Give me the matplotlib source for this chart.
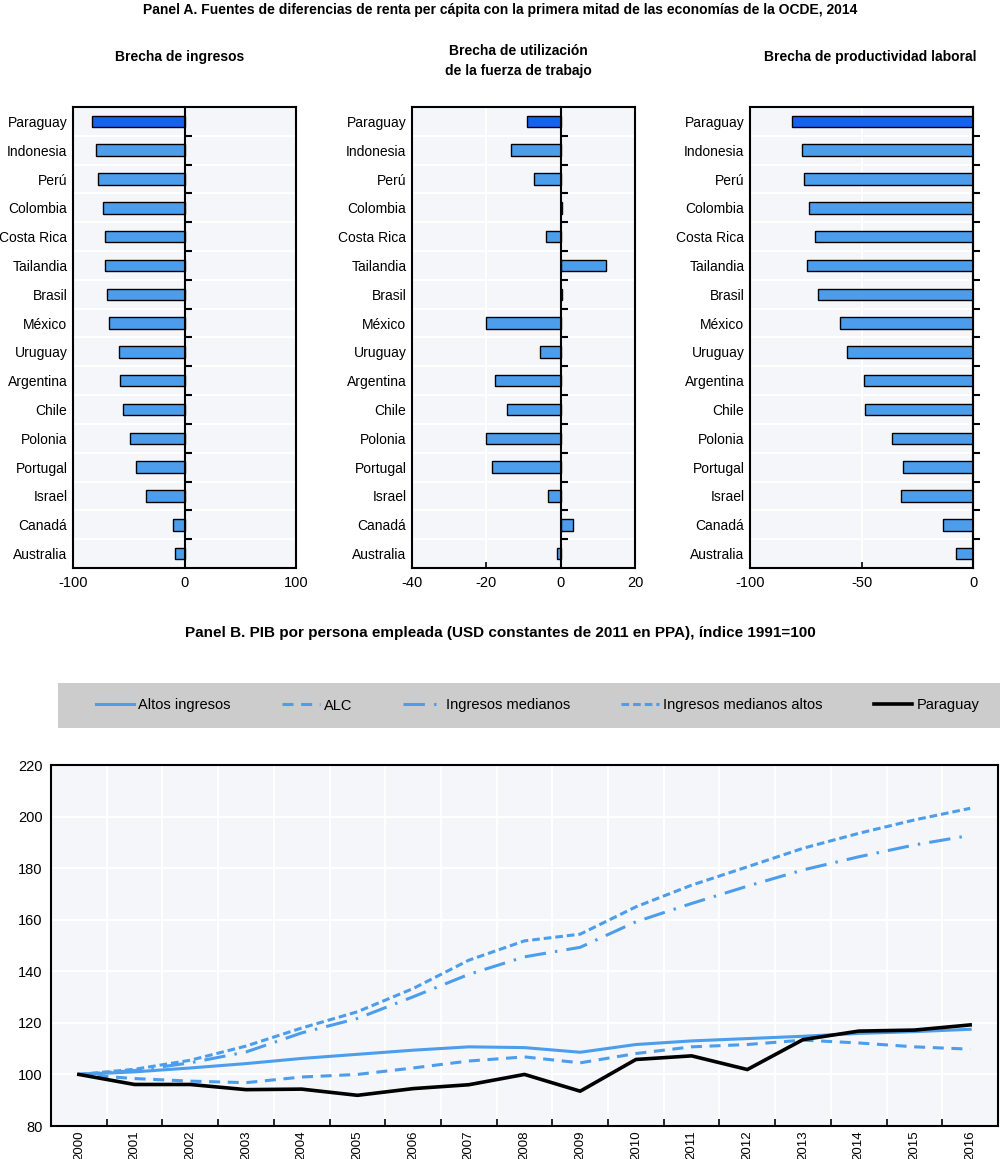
import numpy as np
import matplotlib
matplotlib.use('Agg')
import matplotlib.pyplot as plt
from matplotlib.patches import Rectangle

plt.rcParams['font.family'] = ['Liberation Sans', 'DejaVu Sans']

# Panel A data (gaps vs upper half of OECD, 2014)
countries = ['Paraguay', 'Indonesia', 'Perú', 'Colombia', 'Costa Rica', 'Tailandia', 'Brasil',
             'México', 'Uruguay', 'Argentina', 'Chile', 'Polonia', 'Portugal', 'Israel',
             'Canadá', 'Australia']
brecha_ingresos = [-83.0, -79.4, -77.3, -73.0, -71.6, -71.0, -69.2, -67.4, -58.7, -57.8,
                   -55.0, -48.9, -43.8, -34.5, -10.0, -8.2]
brecha_trabajo = [-9.0, -13.4, -7.2, 0.3, -4.0, 12.1, 0.3, -20.1, -5.5, -17.8,
                  -14.4, -20.1, -18.6, -3.5, 3.3, -1.1]
brecha_productividad = [-81.1, -76.7, -75.8, -73.5, -70.8, -74.5, -69.5, -59.7, -56.6, -48.9,
                        -48.4, -36.5, -31.3, -32.2, -13.3, -7.6]

# Panel B data (GDP per person employed, index)
years = list(range(2000, 2017))
altos_ingresos = [100, 101.0, 102.5, 104.2, 106.2, 107.8, 109.4, 110.7, 110.4, 108.6,
                  111.6, 113.0, 113.9, 114.8, 115.9, 116.6, 117.5]
alc = [100, 98.4, 97.4, 96.8, 99.0, 100.0, 102.5, 105.2, 106.8, 104.5,
       108.1, 110.7, 111.6, 113.3, 112.2, 110.7, 109.8]
ing_medianos = [100, 101.5, 104.5, 108.7, 116.1, 121.7, 130.1, 138.8, 145.6, 149.3,
                159.2, 166.3, 173.0, 179.3, 184.4, 189.0, 192.7]
ing_medianos_altos = [100, 102.0, 105.5, 111.0, 118.0, 124.3, 133.3, 144.3, 151.8, 154.4,
                      165.0, 173.4, 180.5, 187.7, 193.5, 198.7, 203.2]
paraguay = [100, 96.1, 96.1, 94.1, 94.3, 91.9, 94.5, 96.0, 100.0, 93.5,
            105.8, 107.2, 101.9, 113.5, 116.8, 117.2, 119.2]

blue = '#4C9DEB'
dark_blue = '#1662F0'
bg = '#F4F6F9'
W, H = 1000, 1159

fig = plt.figure(figsize=(W / 100, H / 100), dpi=100)

def fx(px):
    return px / W

def fy(py):
    return 1 - py / H

fig.text(0.5, fy(10), 'Panel A. Fuentes de diferencias de renta per cápita con la primera mitad '
         'de las economías de la OCDE, 2014', ha='center', va='center', weight='bold', fontsize=10)

panels = [
    (brecha_ingresos, 'Brecha de ingresos', 73, 296, (-100, 100), [-100, 0, 100], 180),
    (brecha_trabajo, 'Brecha de utilización\nde la fuerza de trabajo', 412, 635, (-40, 20),
     [-40, -20, 0, 20], 518),
    (brecha_productividad, 'Brecha de productividad laboral', 750, 973, (-100, 0),
     [-100, -50, 0], 870),
]

n = len(countries)
ypos = np.arange(n)
for vals, title, x0, x1, xlim, xt, tx in panels:
    ax = fig.add_axes([fx(x0), fy(568), fx(x1 - x0), (568 - 107) / H])
    ax.set_facecolor(bg)
    colors = [dark_blue if c == 'Paraguay' else blue for c in countries]
    ax.barh(ypos, vals, height=0.4, color=colors, edgecolor='black', linewidth=1.0, zorder=3)
    ax.set_xlim(xlim)
    ax.set_ylim(n - 0.5, -0.5)
    ax.set_yticks(ypos)
    ax.set_yticklabels(countries, fontsize=10)
    ax.set_yticks(np.arange(0.5, n - 1, 1), minor=True)
    ax.tick_params(axis='y', which='both', length=0, pad=4)
    ax.set_xticks(xt)
    ax.set_xticklabels([str(v) for v in xt], fontsize=10.5)
    ax.tick_params(axis='x', direction='in', length=4, width=1.2, pad=6)
    ax.grid(axis='y', which='minor', color='white', lw=1.5)
    ax.grid(axis='x', which='major', color='white', lw=1.5)
    for s in ax.spines.values():
        s.set_linewidth(1.5)
    # zero line with category boundary ticks
    frac = (0 - xlim[0]) / (xlim[1] - xlim[0])
    sec = ax.secondary_yaxis(frac)
    sec.set_zorder(5)
    sec.set_yticks(np.arange(0.5, n - 1, 1))
    sec.set_yticklabels([])
    sec.tick_params(length=5, width=1.5, direction='out')
    sec.spines['right'].set_linewidth(1.5)
    sec.spines['left'].set_linewidth(1.5)
    ytxt = 57 if '\n' not in title else 61
    fig.text(fx(tx), fy(ytxt), title, ha='center', va='center', weight='bold', fontsize=10,
             linespacing=1.6)

fig.text(0.5, fy(633), 'Panel B. PIB por persona empleada (USD constantes de 2011 en PPA), '
         'índice 1991=100', ha='center', va='center', weight='bold', fontsize=11)

# legend band
fig.patches.append(Rectangle((fx(58), fy(728)), fx(1000 - 58), (728 - 683) / H,
                             transform=fig.transFigure, facecolor='#CCCCCC', edgecolor='none',
                             zorder=0))

ax = fig.add_axes([fx(51), fy(1126), fx(998 - 51), (1126 - 765) / H])
ax.set_facecolor(bg)
l1, = ax.plot(years, altos_ingresos, color=blue, lw=2.2, label='Altos ingresos', zorder=3)
l2, = ax.plot(years, alc, color=blue, lw=2.2, dashes=(3.6, 2.5), label='ALC', zorder=3)
l3, = ax.plot(years, ing_medianos, color=blue, lw=2.2, dashes=(7, 3, 0.8, 3),
              label='Ingresos medianos', zorder=3)
l4, = ax.plot(years, ing_medianos_altos, color=blue, lw=2.2, dashes=(2.5, 1.3),
              label='Ingresos medianos altos', zorder=3)
l5, = ax.plot(years, paraguay, color='black', lw=2.6, label='Paraguay', zorder=4)

ax.set_xlim(1999.5, 2016.5)
ax.set_ylim(80, 220)
ax.set_yticks(np.arange(80, 221, 20))
ax.tick_params(axis='y', length=0, labelsize=10.5, pad=6)
ax.set_xticks(years)
ax.set_xticklabels([str(y) for y in years], rotation=90, fontsize=9.5)
ax.set_xticks(np.arange(2000.5, 2016, 1), minor=True)
ax.tick_params(axis='x', which='major', length=0, pad=3)
ax.tick_params(axis='x', which='minor', direction='in', length=5, width=1.2)
ax.grid(axis='y', color='white', lw=1.5)
ax.grid(axis='x', which='minor', color='white', lw=1.5)
for s in ax.spines.values():
    s.set_linewidth(1.5)

fig.legend(handles=[l1, l2, l3, l4, l5], loc='center', ncol=5, mode='expand',
           bbox_to_anchor=(fx(90), fy(728), fx(985 - 90), (728 - 683) / H),
           frameon=False, fontsize=10.5, handlelength=2.6, handletextpad=0.3,
           borderaxespad=0)

fig.savefig('out.png', dpi=100)
